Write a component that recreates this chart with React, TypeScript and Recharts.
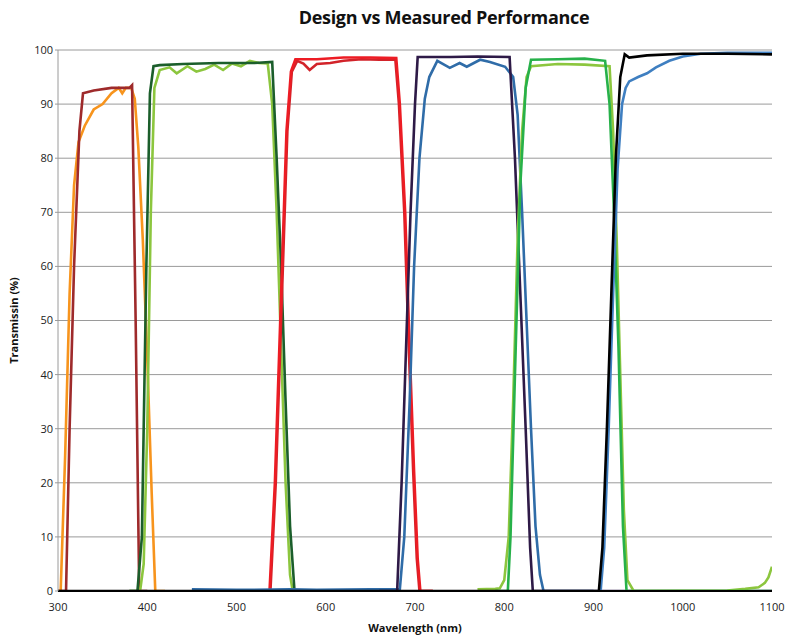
import React from 'react';
import { LineChart, Line, XAxis, YAxis, CartesianGrid, Label } from 'recharts';

type Pt = [number, number];

// [wavelength nm, transmission %]
const uvDesign: Pt[] = [
  [300, 0], [309, 0], [313, 30], [318, 60], [324, 85], [328, 92], [340, 92.5],
  [360, 93], [380, 93], [383, 93.5], [387, 50], [391, 0], [400, 0],
];
const uvMeasured: Pt[] = [
  [300, 0], [303, 0], [308, 25], [313, 55], [318, 75], [323, 83], [330, 86],
  [340, 89], [350, 90], [360, 92], [368, 93], [372, 92], [376, 93], [382, 93],
  [386, 91], [390, 82], [395, 65], [400, 43], [405, 18], [409, 0], [420, 0],
];
const blueDesign: Pt[] = [
  [380, 0], [389, 0], [394, 10], [399, 60], [403, 92], [407, 97], [414, 97.2],
  [440, 97.4], [480, 97.6], [520, 97.6], [540, 97.8], [545, 80], [550, 60],
  [555, 35], [560, 12], [565, 0], [580, 0],
];
const blueMeasured: Pt[] = [
  [380, 0], [392, 0], [396, 5], [400, 30], [404, 70], [408, 93], [414, 96.3],
  [425, 96.8], [433, 95.7], [445, 97], [455, 96], [465, 96.5], [475, 97.3],
  [485, 96.3], [495, 97.5], [505, 97], [515, 98], [525, 97.6], [535, 97.5],
  [540, 90], [545, 70], [550, 45], [555, 20], [560, 3], [563, 0], [580, 0],
];
const redDesign: Pt[] = [
  [525, 0], [537, 0], [543, 20], [550, 55], [556, 85], [561, 96], [566, 98.3],
  [590, 98.3], [620, 98.6], [650, 98.6], [679, 98.5], [683, 90], [689, 70],
  [694, 45], [699, 22], [703, 6], [706, 0], [720, 0],
];
const redMeasured: Pt[] = [
  [525, 0], [538, 0], [544, 20], [551, 55], [557, 85], [562, 96], [568, 98],
  [575, 97.5], [582, 96.3], [590, 97.4], [605, 97.6], [620, 98], [640, 98.3],
  [660, 98.2], [678, 98.2], [682, 90], [688, 70], [693, 45], [698, 22],
  [702, 6], [705, 0], [720, 0],
];
const nirDesign: Pt[] = [
  [660, 0], [680, 0], [685, 20], [690, 45], [695, 70], [700, 90], [703, 98.7],
  [740, 98.7], [770, 98.8], [806, 98.7], [812, 80], [818, 55], [824, 30],
  [829, 8], [832, 0], [1100, 0],
];
const nirMeasured: Pt[] = [
  [450, 0.3], [500, 0.2], [560, 0.3], [590, 0.2], [650, 0.3], [683, 0.3],
  [688, 10], [694, 35], [699, 60], [705, 80], [711, 91], [716, 95], [725, 98],
  [739, 96.7], [750, 97.6], [758, 96.9], [773, 98.2], [784, 97.8], [801, 96.9],
  [810, 95], [815, 88], [820, 70], [825, 50], [830, 30], [835, 12], [840, 3],
  [844, 0], [900, 0],
];
const ir1Design: Pt[] = [
  [790, 0], [804, 0], [807, 10], [812, 40], [818, 75], [824, 93], [830, 98.2],
  [860, 98.3], [890, 98.4], [913, 98], [918, 90], [923, 70], [928, 45],
  [933, 12], [937, 0], [1100, 0],
];
const ir1Measured: Pt[] = [
  [770, 0.3], [790, 0.4], [795, 0.5], [800, 2], [805, 10], [810, 35],
  [815, 65], [820, 85], [825, 95], [830, 97], [860, 97.4], [890, 97.3],
  [918, 97], [922, 85], [926, 65], [930, 40], [934, 15], [938, 2], [945, 0],
  [1050, 0.1], [1070, 0.4], [1085, 0.7], [1092, 1.5], [1096, 2.5], [1100, 4.5],
];
const ir2Design: Pt[] = [
  [300, 0], [906, 0], [910, 8], [915, 30], [920, 55], [925, 80], [930, 95],
  [935, 99.2], [940, 98.6], [960, 99], [1000, 99.3], [1050, 99.3], [1100, 99.2],
];
const ir2Measured: Pt[] = [
  [908, 0], [912, 8], [917, 30], [922, 55], [927, 78], [932, 90], [936, 93],
  [940, 94.2], [950, 95], [960, 95.7], [970, 96.8], [985, 98], [1000, 98.8],
  [1020, 99.3], [1050, 99.5], [1100, 99.5],
];

const xTicks = [300, 400, 500, 600, 700, 800, 900, 1000, 1100];
const yTicks = [0, 10, 20, 30, 40, 50, 60, 70, 80, 90, 100];

const SERIES: { name: string; pts: Pt[]; color: string }[] = [
  { name: 'UV measured', pts: uvMeasured, color: '#f7941d' },
  { name: 'UV design', pts: uvDesign, color: '#9e2a2b' },
  { name: 'Blue measured', pts: blueMeasured, color: '#8cc63e' },
  { name: 'Blue design', pts: blueDesign, color: '#1b5e2b' },
  { name: 'Red measured', pts: redMeasured, color: '#d2232a' },
  { name: 'Red design', pts: redDesign, color: '#ed1c24' },
  { name: 'NIR measured', pts: nirMeasured, color: '#2f6ca8' },
  { name: 'NIR design', pts: nirDesign, color: '#2e1a47' },
  { name: 'IR1 measured', pts: ir1Measured, color: '#8cc63e' },
  { name: 'IR1 design', pts: ir1Design, color: '#27b14a' },
  { name: 'IR2 measured', pts: ir2Measured, color: '#3f7fc1' },
  { name: 'IR2 design', pts: ir2Design, color: '#000000' },
];

const FONT = '"Open Sans", "Liberation Sans", sans-serif';
const tickStyle = { fill: '#222', fontSize: 11, fontFamily: FONT };

export default function App() {
  return (
    <div style={{ position: 'absolute', left: 0, top: 0, width: 785, height: 641, background: '#fff' }}>
      <div
        style={{
          position: 'absolute',
          left: 0,
          width: 888,
          top: 5,
          textAlign: 'center',
          fontFamily: FONT,
          fontWeight: 700,
          fontSize: 18,
          color: '#111',
          letterSpacing: -0.3,
        }}
      >
        Design vs Measured Performance
      </div>
      <LineChart width={785} height={641} margin={{ top: 50, right: 13, bottom: 15, left: 0 }}>
        <CartesianGrid vertical={false} stroke="#9a9a9a" strokeWidth={1} />
        <XAxis
          dataKey="nm"
          type="number"
          domain={[300, 1100]}
          ticks={xTicks}
          allowDataOverflow
          tick={tickStyle}
          tickLine={false}
          axisLine={{ stroke: '#000', strokeWidth: 2 }}
          height={35}
          tickMargin={6}
        >
          <Label
            value="Wavelength (nm)"
            position="insideBottom"
            offset={-6}
            style={{ fill: '#111', fontSize: 11, fontWeight: 700, fontFamily: FONT }}
          />
        </XAxis>
        <YAxis
          type="number"
          domain={[0, 100]}
          ticks={yTicks}
          allowDataOverflow
          tick={tickStyle}
          tickLine={{ stroke: '#9a9a9a' }}
          tickSize={3}
          axisLine={{ stroke: '#9a9a9a' }}
          width={58}
        >
          <Label
            value="Transmissin (%)"
            angle={-90}
            position="insideLeft"
            offset={14}
            style={{ fill: '#111', fontSize: 11, fontWeight: 700, fontFamily: FONT, textAnchor: 'middle' }}
          />
        </YAxis>
        {SERIES.map((s) => (
          <Line
            key={s.name}
            name={s.name}
            data={s.pts.map(([nm, t]) => ({ nm, t }))}
            dataKey="t"
            type="linear"
            stroke={s.color}
            strokeWidth={2.6}
            dot={false}
            isAnimationActive={false}
          />
        ))}
      </LineChart>
    </div>
  );
}
